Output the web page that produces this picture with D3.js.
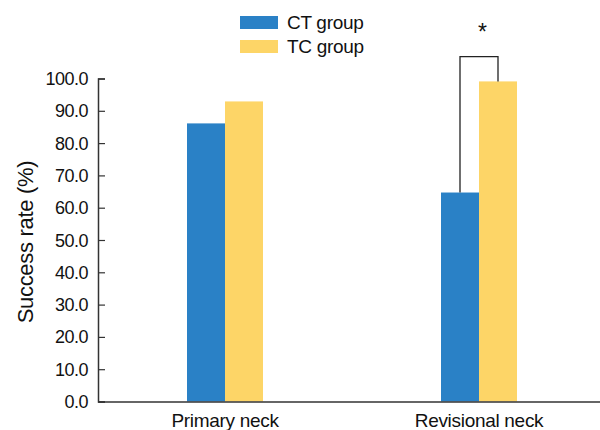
<!DOCTYPE html>
<html>
<head>
<meta charset="utf-8">
<script src="https://cdn.jsdelivr.net/npm/d3@7"></script>
<style>
body { margin: 0; background: #fff; }
text { font-family: "Liberation Sans", Arial, sans-serif; fill: #111; }
</style>
</head>
<body>
<div id="chart"></div>
<script>
// data
var categories = ["Primary neck", "Revisional neck"];
var groups = ["CT group", "TC group"];
var ctValues = [86.1, 64.7];
var tcValues = [92.9, 99.1];
var yTicks = [0, 10, 20, 30, 40, 50, 60, 70, 80, 90, 100];

var colors = ["#2a81c6", "#fdd567"];

var width = 600, height = 430;
var svg = d3.select("#chart").append("svg")
  .attr("width", width)
  .attr("height", height);

// scales
var x = d3.scaleBand()
  .domain(categories)
  .range([98, 606]);
var y = d3.scaleLinear()
  .domain([0, 100])
  .range([401.5, 78.5]);
var barW = 38;

var rows = categories.map(function(c, i) {
  return { cat: c, vals: [ctValues[i], tcValues[i]] };
});

// bars
rows.forEach(function(r) {
  var cx = x(r.cat) + x.bandwidth() / 2;
  svg.selectAll(null)
    .data(r.vals)
    .enter()
    .append("rect")
      .attr("x", function(d, j) { return cx - barW + j * barW; })
      .attr("y", function(d) { return y(d); })
      .attr("width", barW)
      .attr("height", function(d) { return y(0) - y(d); })
      .attr("fill", function(d, j) { return colors[j]; });
});

// y axis (ticks inside)
var yAxis = svg.append("g")
  .attr("transform", "translate(98,0)")
  .call(d3.axisRight(y).tickValues(yTicks).tickSize(7).tickFormat(""));
yAxis.select(".domain").attr("stroke", "#333").attr("stroke-width", 1.5);
yAxis.selectAll(".tick line").attr("stroke", "#333").attr("stroke-width", 1.2);

svg.selectAll(".ylab")
  .data(yTicks)
  .enter()
  .append("text")
    .attr("class", "ylab")
    .attr("x", 88)
    .attr("y", function(d) { return y(d) + 6.5; })
    .attr("text-anchor", "end")
    .style("font-size", "18px")
    .style("letter-spacing", "-0.5px")
    .text(function(d) { return d.toFixed(1); });

// x axis
var xAxis = svg.append("g")
  .attr("transform", "translate(0," + y(0) + ")")
  .call(d3.axisBottom(x).tickSize(0).tickSizeOuter(0));
xAxis.select(".domain").attr("stroke", "#333").attr("stroke-width", 1.5);
xAxis.selectAll(".tick text")
  .attr("dy", 0)
  .attr("y", 25)
  .style("font-size", "19px")
  .style("letter-spacing", "-0.3px")
  .style("font-family", "'Liberation Sans', Arial, sans-serif")
  .attr("fill", "#111");

// y axis title
svg.append("text")
  .attr("transform", "translate(33,242) rotate(-90)")
  .attr("text-anchor", "middle")
  .style("font-size", "22px")
  .style("letter-spacing", "-0.3px")
  .text("Success rate (%)");

// significance bracket
var rc = x(categories[1]) + x.bandwidth() / 2;
var topY = 56.7;
svg.append("path")
  .attr("d", "M" + (rc - barW / 2) + "," + y(ctValues[1]) +
             "V" + topY + "H" + (rc + barW / 2) + "V" + y(tcValues[1]))
  .attr("fill", "none")
  .attr("stroke", "#222")
  .attr("stroke-width", 1.3);
svg.append("text")
  .attr("x", rc + 3.5)
  .attr("y", 40)
  .attr("text-anchor", "middle")
  .style("font-size", "23px")
  .text("*");

// legend
var legend = svg.selectAll(".leg")
  .data(groups)
  .enter()
  .append("g")
    .attr("transform", function(d, i) { return "translate(240," + (16 + i * 24) + ")"; });
legend.append("rect")
  .attr("width", 38)
  .attr("height", 13)
  .attr("fill", function(d, i) { return colors[i]; });
legend.append("text")
  .attr("x", 47)
  .attr("y", 13)
  .style("font-size", "19px")
  .style("letter-spacing", "-0.3px")
  .text(function(d) { return d; });
</script>
</body>
</html>
